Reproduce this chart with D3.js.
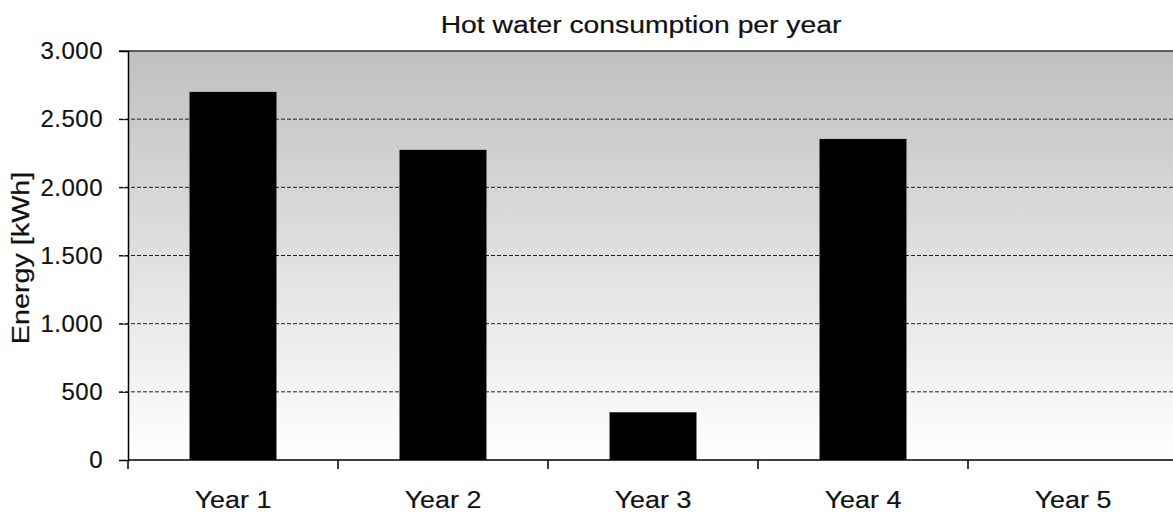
<!DOCTYPE html>
<html><head><meta charset="utf-8">
<script src="https://cdn.jsdelivr.net/npm/d3@7"></script>
<style>
html,body{margin:0;padding:0;background:#fff;}
svg{display:block;font-family:"Liberation Sans",Arial,sans-serif;}
.lbl{fill:#111;stroke:#111;stroke-width:0.2px;}
</style></head>
<body>
<svg id="chart" width="1173" height="514"></svg>
<script>
const categories = ["Year 1","Year 2","Year 3","Year 4","Year 5"];
const values = [2700, 2275, 350, 2355, 0];
const yTicks = [0, 500, 1000, 1500, 2000, 2500, 3000];
const title = "Hot water consumption per year";
const yTitle = "Energy [kWh]";

const svg = d3.select("#chart");
const m = {left:128, top:51, right:1178, bottom:460};

const x = d3.scaleBand().domain(categories).range([m.left, m.right])
  .paddingInner(0.586).paddingOuter(0.293);
const y = d3.scaleLinear().domain([0,3000]).range([m.bottom, m.top]);

const defs = svg.append("defs");
const grad = defs.append("linearGradient").attr("id","bg").attr("x1",0).attr("y1",0).attr("x2",0).attr("y2",1);
grad.append("stop").attr("offset","0%").attr("stop-color","#c0c0c0");
grad.append("stop").attr("offset","100%").attr("stop-color","#ffffff");

svg.append("rect").attr("x",m.left).attr("y",m.top)
  .attr("width",m.right-m.left).attr("height",m.bottom-m.top).attr("fill","url(#bg)");

// gridlines
svg.append("g").selectAll("line").data(yTicks.filter(d=>d>0 && d<3000)).join("line")
  .attr("x1",m.left-9).attr("x2",m.right).attr("y1",d=>y(d)).attr("y2",d=>y(d))
  .attr("stroke","#222").attr("stroke-width",1).attr("stroke-dasharray","4,2");

// top border
svg.append("line").attr("x1",m.left-9).attr("x2",m.right).attr("y1",y(3000)).attr("y2",y(3000))
  .attr("stroke","#333").attr("stroke-width",1.5);

// bars
svg.append("g").selectAll("rect").data(categories).join("rect")
  .attr("x",d=>x(d)).attr("width",x.bandwidth())
  .attr("y",(d,i)=>y(values[i])).attr("height",(d,i)=>y(0)-y(values[i]))
  .attr("fill","#000");

// y axis
const yAxis = svg.append("g").attr("transform",`translate(${m.left},0)`)
  .call(d3.axisLeft(y).tickValues(yTicks).tickSize(9).tickPadding(16)
    .tickFormat(d=>d3.format(",")(d).replace(/,/g,".")));
yAxis.select(".domain").attr("stroke","#000").attr("stroke-width",1.5);
yAxis.selectAll(".tick line").attr("stroke","#000");
yAxis.selectAll("text").attr("class","lbl").attr("font-size",24)
  .attr("letter-spacing","0.5px")
  .attr("font-family","'Liberation Sans',Arial,sans-serif");

// x axis
const xTickScale = d3.scaleLinear().domain([0,categories.length]).range([m.left,m.right]);
const xAxis = svg.append("g").attr("transform",`translate(0,${m.bottom})`);
xAxis.append("line").attr("x1",m.left).attr("x2",m.right).attr("stroke","#000").attr("stroke-width",1.5);
xAxis.selectAll("line.t").data(d3.range(categories.length+1)).join("line").attr("class","t")
  .attr("x1",d=>xTickScale(d)).attr("x2",d=>xTickScale(d)).attr("y1",0).attr("y2",9)
  .attr("stroke","#000").attr("stroke-width",1.5);
xAxis.selectAll("text").data(categories).join("text")
  .attr("transform",d=>`translate(${x(d)+x.bandwidth()/2},48) scale(1.12,1)`)
  .attr("text-anchor","middle").attr("font-size",24).attr("class","lbl").text(d=>d);

// titles
svg.append("text").attr("transform","translate(641,33) scale(1.23,1)").attr("text-anchor","middle")
  .attr("font-size",23).attr("class","lbl").text(title);
svg.append("text").attr("transform","translate(29,258) rotate(-90) scale(1.25,1)")
  .attr("text-anchor","middle").attr("font-size",23)
  .attr("class","lbl").text(yTitle);
</script>
</body></html>
